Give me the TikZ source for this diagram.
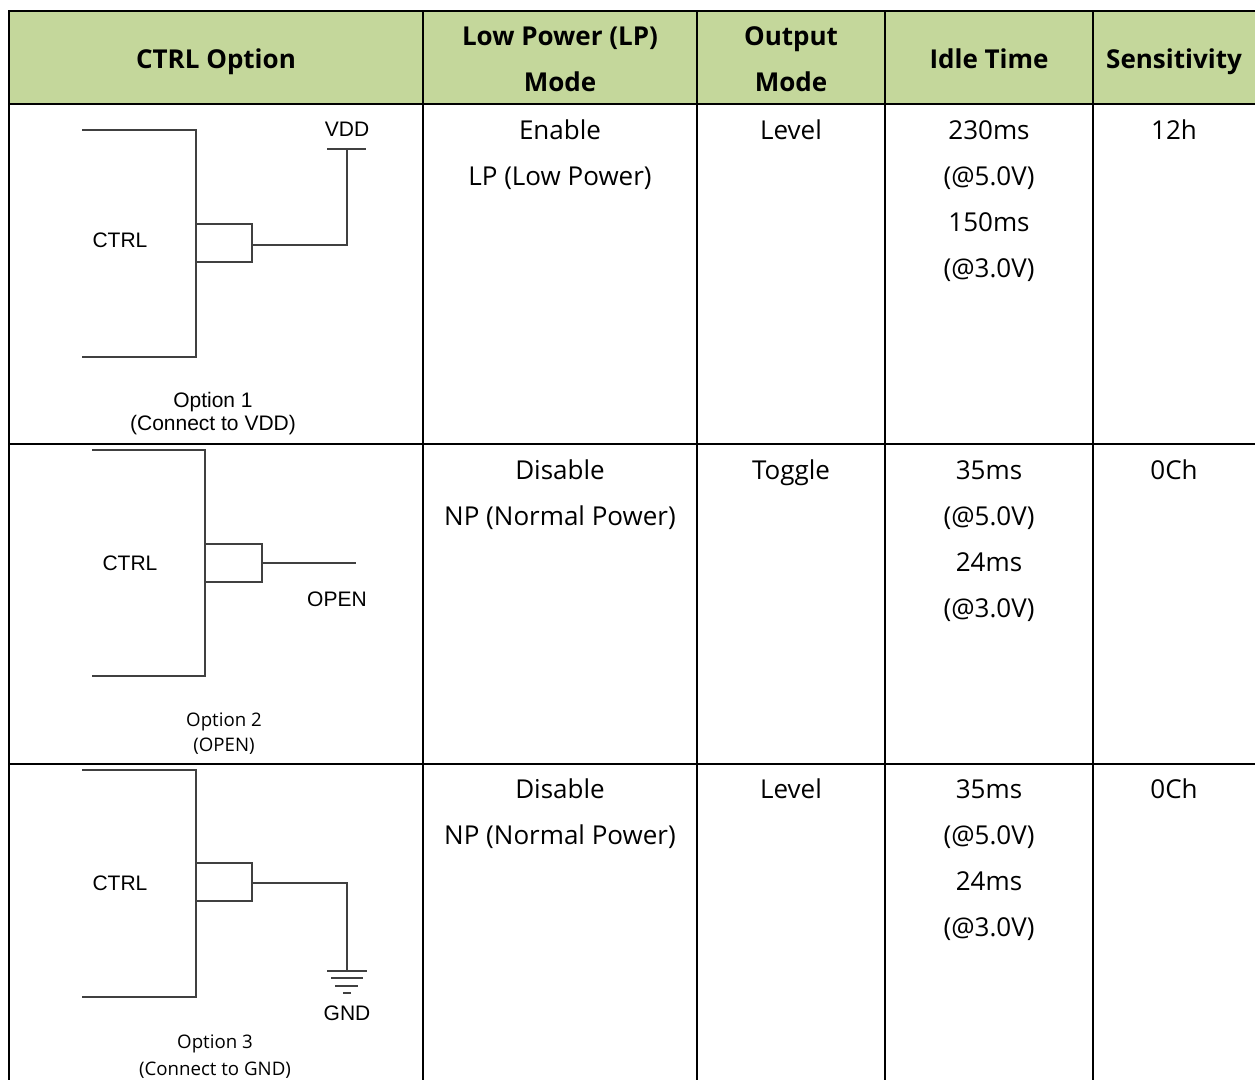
\documentclass[tikz,border=0pt]{standalone}
\usepackage{fontspec}
\setmainfont{Open Sans}
\newfontfamily\arialfont{Liberation Sans}
\usepackage{xcolor}
\definecolor{headgreen}{HTML}{C4D79B}
\definecolor{wiregray}{HTML}{404040}

\begin{document}
\begin{tikzpicture}[x=0.75pt, y=-0.75pt,
    cell/.style={anchor=base, inner sep=0pt, font=\fontsize{19.5}{23}\selectfont},
    head/.style={cell, font=\fontsize{19.5}{23}\selectfont\bfseries},
    lbl/.style={anchor=base, inner sep=0pt, font=\arialfont\fontsize{15.75}{18}\selectfont},
    optcap/.style={anchor=base, inner sep=0pt, font=\fontsize{14}{17}\selectfont},
    wire/.style={draw=wiregray, line width=1.7pt},
    grid/.style={line width=1.5pt}]

    % Page
    \useasboundingbox (0,0) rectangle (1255,1080);
    \fill[white] (0,0) rectangle (1255,1080);

    % Header fill
    \fill[headgreen] (9,11) rectangle (1255,104);

    % Draw the table lines
    \draw[grid] (1255,11) -- (9,11) -- (9,1080);
    \draw[grid] (9,104) -- (1255,104);
    \draw[grid] (9,444) -- (1255,444);
    \draw[grid] (9,764) -- (1255,764);
    \foreach \x in {423,697,885,1093}
        \draw[grid] (\x,11) -- (\x,1080);

    % Header
    \node[head] (hctrl) at (216,69) {CTRL Option};
    \node[head] (hlpa) at (560,46) {Low Power (LP)};
    \node[head] (hlpb) at (560,92) {Mode};
    \node[head] (houta) at (791,46) {Output};
    \node[head] (houtb) at (791,92) {Mode};
    \node[head] (hidle) at (989,69) {Idle Time};
    \node[head] (hsens) at (1174,69) {Sensitivity};

    % Row 1
    \node[cell] (lpa) at (560,139.5) {Enable};
    \node[cell] (lpb) at (560,185.5) {LP (Low Power)};
    \node[cell] (outa) at (791,139.5) {Level};
    \node[cell] (idlea) at (989,139.5) {230ms};
    \node[cell] (idleb) at (989,185.5) {(@5.0V)};
    \node[cell] (idlec) at (989,231.5) {150ms};
    \node[cell] (idled) at (989,277.5) {(@3.0V)};
    \node[cell] (sensa) at (1174,139.5) {12h};

    % Row 2
    \node[cell] (lpc) at (560,479.5) {Disable};
    \node[cell] (lpd) at (560,525.5) {NP (Normal Power)};
    \node[cell] (outb) at (791,479.5) {Toggle};
    \node[cell] (idlee) at (989,479.5) {35ms};
    \node[cell] (idlef) at (989,525.5) {(@5.0V)};
    \node[cell] (idleg) at (989,571.5) {24ms};
    \node[cell] (idleh) at (989,617.5) {(@3.0V)};
    \node[cell] (sensb) at (1174,479.5) {0Ch};

    % Row 3
    \node[cell] (lpe) at (560,798.5) {Disable};
    \node[cell] (lpf) at (560,844.5) {NP (Normal Power)};
    \node[cell] (outc) at (791,798.5) {Level};
    \node[cell] (idlei) at (989,798.5) {35ms};
    \node[cell] (idlej) at (989,844.5) {(@5.0V)};
    \node[cell] (idlek) at (989,890.5) {24ms};
    \node[cell] (idlel) at (989,936.5) {(@3.0V)};
    \node[cell] (sensc) at (1174,798.5) {0Ch};

    % Option 1: connect to VDD
    \draw[wire] (82,130) -- (196,130) -- (196,357) -- (82,357);
    \draw[wire] (196,224) rectangle (252,262);
    \draw[wire] (252,245) -- (347,245) -- (347,149);
    \draw[wire] (327,149) -- (366,149);
    \node[lbl] (ctrla) at (120,247.5) {CTRL};
    \node[lbl] (vdd) at (347,136.5) {VDD};
    \node[lbl] (opta) at (213,407) {Option 1};
    \node[lbl] (optb) at (213,430.5) {(Connect to VDD)};

    % Option 2: open
    \draw[wire] (92,450) -- (205,450) -- (205,676) -- (92,676);
    \draw[wire] (205,544) rectangle (262,582);
    \draw[wire] (262,563) -- (356,563);
    \node[lbl] (ctrlb) at (130,570) {CTRL};
    \node[lbl] (open) at (337,606.5) {OPEN};
    \node[optcap] (optc) at (224,726.5) {Option 2};
    \node[optcap] (optd) at (224,751.5) {(OPEN)};

    % Option 3: connect to GND
    \draw[wire] (82,770) -- (196,770) -- (196,997) -- (82,997);
    \draw[wire] (196,863) rectangle (252,901);
    \draw[wire] (252,883) -- (347,883) -- (347,971);
    \draw[wire] (327,971) -- (367,971);
    \draw[wire] (331,978) -- (363,978);
    \draw[wire] (335,986) -- (358,986);
    \draw[wire] (343,993) -- (351,993);
    \node[lbl] (ctrlc) at (120,890) {CTRL};
    \node[lbl] (gnd) at (347,1020) {GND};
    \node[optcap] (opte) at (215,1048) {Option 3};
    \node[optcap] (optf) at (215,1075) {(Connect to GND)};

\end{tikzpicture}
\end{document}
